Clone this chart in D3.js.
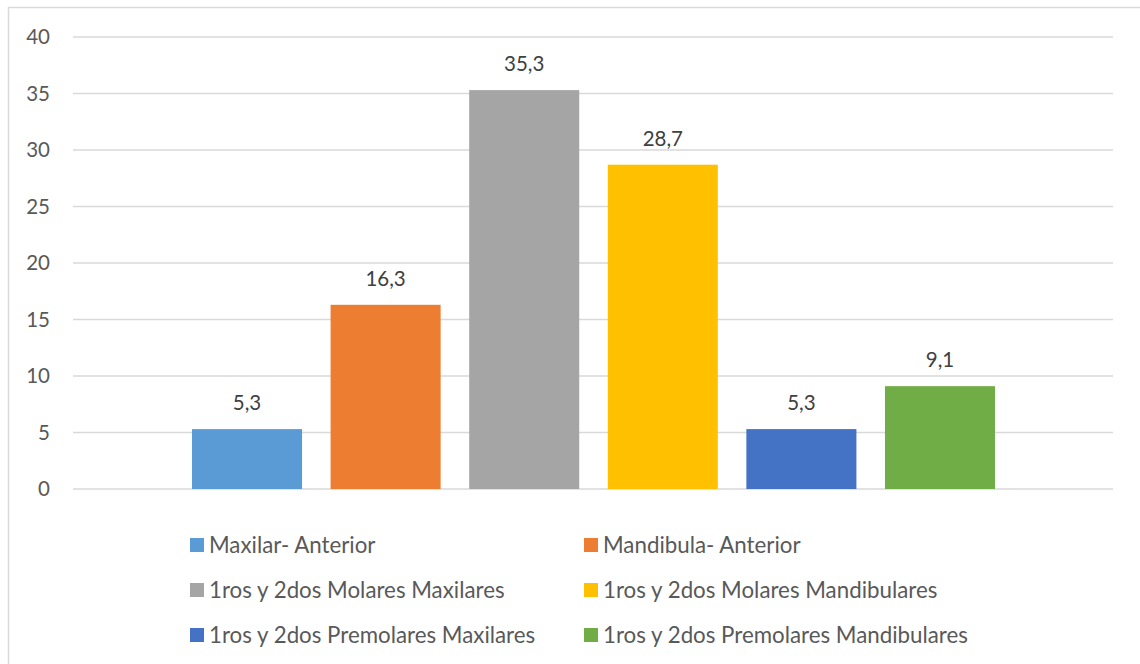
<!DOCTYPE html>
<html><head><meta charset="utf-8">
<script src="https://cdn.jsdelivr.net/npm/d3@7"></script>
<style>body{margin:0;background:#fff}svg{display:block}text{font-family:Lato,"Noto Sans",sans-serif}</style>
</head><body><svg id="c" width="1140" height="664"></svg>
<script>
const series = ["Maxilar- Anterior","Mandibula- Anterior","1ros y 2dos Molares Maxilares","1ros y 2dos Molares Mandibulares","1ros y 2dos Premolares Maxilares","1ros y 2dos Premolares Mandibulares"];
const values = [5.3, 16.3, 35.3, 28.7, 5.3, 9.1];
const colors = ["#5B9BD5","#ED7D31","#A5A5A5","#FFC000","#4472C4","#70AD47"];
const yTicks = [0,5,10,15,20,25,30,35,40];

const svg = d3.select("#c");
svg.append("rect").attr("x",8.5).attr("y",7.5).attr("width",1140).attr("height",670)
  .attr("fill","#fff").attr("stroke","#D9D9D9").attr("stroke-width",1.5);

const plotL = 73, plotR = 1113;
const y = d3.scaleLinear().domain([0,40]).range([489,37]);
const x = d3.scaleBand().domain(series).range([192,995]).paddingInner(0.206).paddingOuter(0);

const fs = 20.5, lfs = 22.3;
const g = svg.append("g");
g.selectAll("line.grid").data(yTicks).join("line").attr("class","grid")
  .attr("x1",plotL).attr("x2",plotR).attr("y1",d=>y(d)).attr("y2",d=>y(d))
  .attr("stroke","#D9D9D9").attr("stroke-width",1.3);
g.selectAll("text.tick").data(yTicks).join("text").attr("class","tick")
  .attr("x",50).attr("y",d=>y(d)).attr("dy","0.35em").attr("text-anchor","end")
  .attr("font-size",fs).attr("fill","#595959").text(d=>d);

const loc = d3.formatLocale({decimal:",",thousands:".",grouping:[3],currency:["",""]});
const fmt = loc.format(".1f");
g.selectAll("rect.bar").data(values).join("rect").attr("class","bar")
  .attr("x",(d,i)=>x(series[i])).attr("width",x.bandwidth())
  .attr("y",d=>y(d)).attr("height",d=>y(0)-y(d)).attr("fill",(d,i)=>colors[i]);
g.selectAll("text.lbl").data(values).join("text").attr("class","lbl")
  .attr("x",(d,i)=>x(series[i])+x.bandwidth()/2).attr("y",d=>y(d)-19)
  .attr("text-anchor","middle").attr("font-size",fs).attr("fill","#404040").text(d=>fmt(d));

const legX = [190, 584], legY = [545, 590, 635];
const lg = svg.append("g");
series.forEach((s,i)=>{
  const cx = legX[i%2], cy = legY[Math.floor(i/2)];
  lg.append("rect").attr("x",cx).attr("y",cy-7).attr("width",14).attr("height",14).attr("fill",colors[i]);
  lg.append("text").attr("x",cx+19).attr("y",cy).attr("dy","0.35em")
    .attr("font-size",lfs).attr("fill","#595959").text(s);
});
</script></body></html>
